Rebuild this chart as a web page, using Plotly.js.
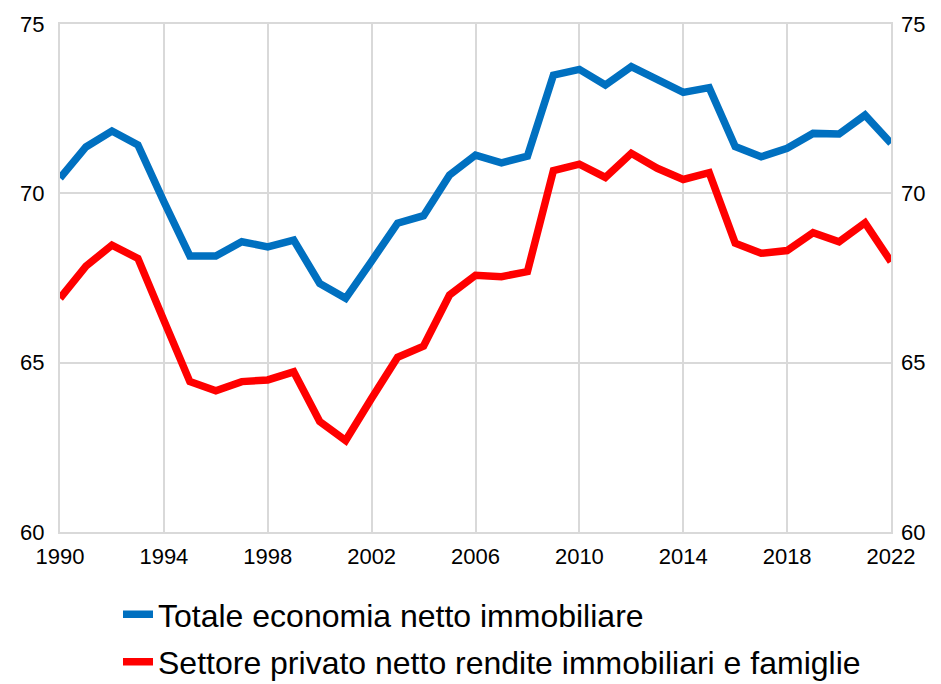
<!DOCTYPE html>
<html>
<head>
<meta charset="utf-8">
<script src="https://cdn.plot.ly/plotly-3.0.1.min.js"></script>
<style>html,body{margin:0;padding:0;background:#fff;}#chart{width:941px;height:684px;}</style>
</head>
<body>
<div id="chart"></div>
<script>
const years = [1990,1991,1992,1993,1994,1995,1996,1997,1998,1999,2000,2001,2002,2003,2004,2005,2006,2007,2008,2009,2010,2011,2012,2013,2014,2015,2016,2017,2018,2019,2020,2021,2022];
const totaleEconomia = [70.45,71.37,71.84,71.43,69.75,68.15,68.15,68.57,68.42,68.62,67.34,66.9,68.0,69.12,69.34,70.54,71.13,70.9,71.1,73.49,73.66,73.2,73.74,73.33,72.98,73.12,71.38,71.08,71.33,71.77,71.75,72.31,71.48];
const settorePrivato = [66.9,67.85,68.47,68.08,66.25,64.44,64.17,64.44,64.49,64.73,63.26,62.7,63.95,65.16,65.49,67.0,67.58,67.54,67.69,70.67,70.86,70.47,71.18,70.74,70.41,70.61,68.53,68.23,68.31,68.84,68.57,69.13,67.98];
const seriesNames = ["Totale economia netto immobiliare","Settore privato netto rendite immobiliari e famiglie"];
const xTicks = [1990,1994,1998,2002,2006,2010,2014,2018,2022];
const yTicks = [60,65,70,75];

const font = "Liberation Sans, Arial, sans-serif";
const gridColor = "#D9D9D9";

const traces = [
  {x: years, y: totaleEconomia, name: seriesNames[0], legendgroup: "a", type: "scatter", mode: "lines",
   line: {color: "#0070C0", width: 7.5}},
  {x: years, y: settorePrivato, name: seriesNames[1], legendgroup: "b", type: "scatter", mode: "lines",
   line: {color: "#FF0000", width: 7.5}},
  {x: years, y: totaleEconomia, yaxis: "y2", type: "scatter", mode: "lines",
   line: {color: "rgba(0,0,0,0)", width: 0}, showlegend: false, hoverinfo: "skip"}
];

const layout = {
  width: 941, height: 684,
  margin: {l: 60, r: 50, t: 24, b: 152},
  paper_bgcolor: "#fff", plot_bgcolor: "#fff",
  font: {family: font, color: "#000", size: 22},
  showlegend: true,
  legend: {xref: "paper", yref: "container", x: 0.0698, y: 0.142, xanchor: "left", yanchor: "top",
           font: {family: font, size: 32, color: "#000"},
           bgcolor: "rgba(0,0,0,0)", traceorder: "grouped", tracegroupgap: 3},
  xaxis: {range: [1990, 2022], tickvals: xTicks, ticktext: xTicks.map(String),
          showgrid: true, gridcolor: gridColor, gridwidth: 2,
          showline: true, linecolor: gridColor, linewidth: 2, mirror: true,
          zeroline: false, ticks: "", ticklabelstandoff: 4,
          tickfont: {family: font, size: 22, color: "#000"}},
  yaxis: {range: [60, 75], tickvals: yTicks, ticktext: yTicks.map(String),
          showgrid: true, gridcolor: gridColor, gridwidth: 2,
          showline: true, linecolor: gridColor, linewidth: 2, mirror: true,
          zeroline: false, ticks: "", ticklabelstandoff: 9,
          tickfont: {family: font, size: 22, color: "#000"}},
  yaxis2: {range: [60, 75], tickvals: yTicks, ticktext: yTicks.map(String),
           overlaying: "y", side: "right", showgrid: false, showline: false,
           zeroline: false, ticks: "", ticklabelstandoff: 9,
           tickfont: {family: font, size: 22, color: "#000"}}
};

Plotly.newPlot("chart", traces, layout, {displayModeBar: false, staticPlot: true});
</script>
</body>
</html>
